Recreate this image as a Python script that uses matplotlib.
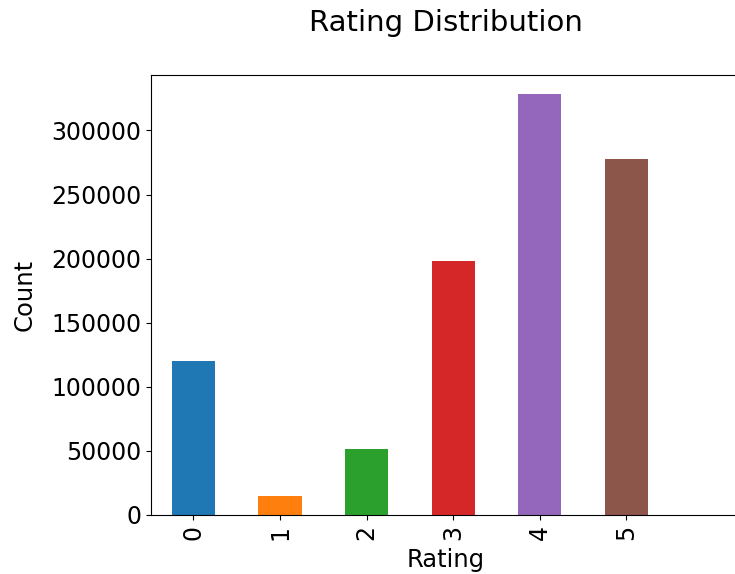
import matplotlib
matplotlib.use("Agg")
import matplotlib.pyplot as plt

ratings = ["0", "1", "2", "3", "4", "5"]
counts = [120300, 15100, 51700, 198500, 328400, 277600]
colors = ["#1f77b4", "#ff7f0e", "#2ca02c", "#d62728", "#9467bd", "#8c564b"]

fig = plt.figure(figsize=(7.35, 5.74), dpi=100)
W, H = 735, 574
left, right, top, bottom = 151, 770, 75, 515
center = 446
ax = fig.add_axes([left / W, 1 - bottom / H, (right - left) / W, (bottom - top) / H])

x = list(range(len(ratings)))
ax.bar(x, counts, width=0.5, color=colors)
ax.set_xticks(x)
ax.set_xticklabels(ratings, rotation=90, fontsize=17)
ax.tick_params(axis="y", labelsize=17)
ax.set_xlim(-0.49, -0.49 + (right - left) / 86.6)
ax.set_ylim(0, 343300)
ax.spines["right"].set_visible(False)
ax.set_xlabel("Rating", fontsize=17.5, labelpad=5.5)
ax.xaxis.set_label_coords((center - left) / (right - left), -0.0, transform=ax.transAxes) if False else None
ax.xaxis.label.set_x((center - left) / (right - left))
ax.set_ylabel("Count", fontsize=17.5, labelpad=10.5)
ax.set_title("Rating Distribution", fontsize=21, pad=32, x=(center - left) / (right - left))

fig.savefig("out.png", dpi=100)
